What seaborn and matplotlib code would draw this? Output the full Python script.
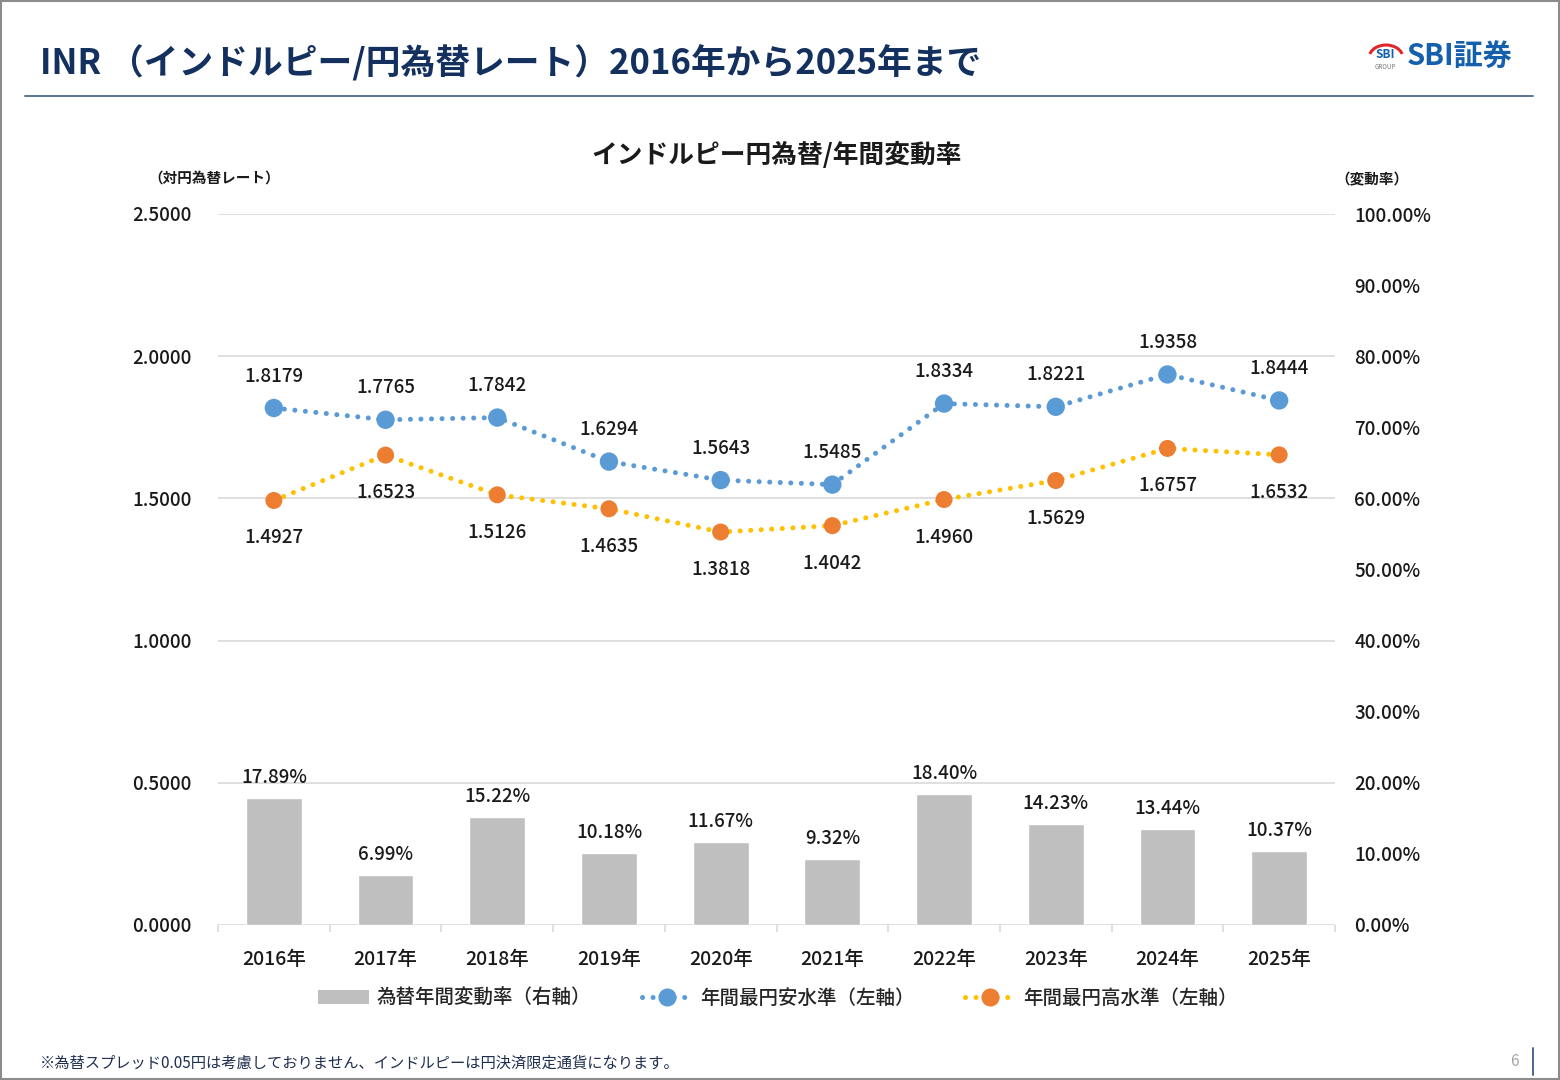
import numpy as np
import pandas as pd
import matplotlib.pyplot as plt
import seaborn as sns
from matplotlib.patches import Rectangle, Arc
from matplotlib.lines import Line2D
from matplotlib.patches import Patch

# data
years = ['2016年', '2017年', '2018年', '2019年', '2020年',
         '2021年', '2022年', '2023年', '2024年', '2025年']
yen_low = [1.8179, 1.7765, 1.7842, 1.6294, 1.5643, 1.5485, 1.8334, 1.8221, 1.9358, 1.8444]   # 年間最円安水準
yen_high = [1.4927, 1.6523, 1.5126, 1.4635, 1.3818, 1.4042, 1.4960, 1.5629, 1.6757, 1.6532]  # 年間最円高水準
change_rate = [17.89, 6.99, 15.22, 10.18, 11.67, 9.32, 18.40, 14.23, 13.44, 10.37]          # 為替年間変動率 (%)

left_ticks = [0.0, 0.5, 1.0, 1.5, 2.0, 2.5]
right_ticks = [0, 10, 20, 30, 40, 50, 60, 70, 80, 90, 100]

title = 'INR （インドルピー/円為替レート）2016年から2025年まで'
chart_title = 'インドルピー円為替/年間変動率'
note = '※為替スプレッド0.05円は考慮しておりません、インドルピーは円決済限定通貨になります。'

sns.set_theme(style='white')
plt.rcParams['font.family'] = ['Noto Sans CJK JP', 'DejaVu Sans']

NAVY = '#13305E'
BLUE = '#5B9BD5'
ORANGE = '#ED7D31'
YELLOW = '#FFC000'
GREY = '#BFBFBF'
GRID = '#D9D9D9'
TXT = '#1A1A1A'
W = 'medium'

df = pd.DataFrame({'year': years, 'rate': change_rate,
                   'low': yen_low, 'high': yen_high})
idx = np.arange(len(years))

fig = plt.figure(figsize=(15.6, 10.8), dpi=100)
ax = fig.add_axes([218 / 1560, 155 / 1080, 1117 / 1560, 711 / 1080])
ax2 = ax.twinx()

# bars on the % scale (shown on the right)
sns.barplot(data=df, x='year', y='rate', color=GREY, width=0.5,
            saturation=1, ax=ax, zorder=2)
ax.set_ylim(0, 100)
ax.set_xlim(-0.5, len(years) - 0.5)
for v in [0, 20, 40, 60, 80, 100]:
    ax.axhline(v, color=GRID, lw=1.2, zorder=0)
ax.bar_label(ax.containers[0], labels=[f'{v:.2f}%' for v in change_rate],
             padding=8, fontsize=13.5, color=TXT, fontweight=W)

ax.yaxis.tick_right()
ax.set_yticks(right_ticks)
ax.set_yticklabels([f'{v:.2f}%' for v in right_ticks], fontsize=13.5, color=TXT, fontweight=W)
ax.tick_params(axis='y', length=0, pad=14)
ax.set_xticks(idx)
ax.set_xticklabels(years, fontsize=14, color=TXT, fontweight=W)
ax.set_xticks(np.arange(-0.5, len(years)), minor=True)
ax.tick_params(axis='x', which='major', length=0, pad=18)
ax.tick_params(axis='x', which='minor', length=5, color=GRID, width=1.2, bottom=True)
ax.set_xlabel('')
ax.set_ylabel('')
for s in ax.spines.values():
    s.set_visible(False)

# lines on the rate scale (shown on the left)
ax2.set_ylim(0, 2.5)
dot = dict(lw=3.6, dash_capstyle='round', linestyle=(0, (0.01, 2.1)))
sns.lineplot(x=idx, y=yen_low, color=BLUE, ax=ax2, zorder=3, **dot)
sns.lineplot(x=idx, y=yen_high, color=YELLOW, ax=ax2, zorder=3, **dot)
sns.scatterplot(x=idx, y=yen_low, color=BLUE, s=175, edgecolor='none', ax=ax2, zorder=4)
sns.scatterplot(x=idx, y=yen_high, color=ORANGE, s=150, edgecolor='none', ax=ax2, zorder=4)
for i in idx:
    ax2.annotate(f'{yen_low[i]:.4f}', (i, yen_low[i]), xytext=(0, 23),
                 textcoords='offset points', ha='center', va='center',
                 fontsize=13.5, color=TXT, fontweight=W)
    ax2.annotate(f'{yen_high[i]:.4f}', (i, yen_high[i]), xytext=(0, -27),
                 textcoords='offset points', ha='center', va='center',
                 fontsize=13.5, color=TXT, fontweight=W)
ax2.yaxis.tick_left()
ax2.set_yticks(left_ticks)
ax2.set_yticklabels([f'{v:.4f}' for v in left_ticks], fontsize=13.5, color=TXT, fontweight=W)
ax2.tick_params(axis='y', length=0, pad=19)
ax2.set_xlim(-0.5, len(years) - 0.5)
ax2.set_ylabel('')
for s in ax2.spines.values():
    s.set_visible(False)

# chart titles / axis captions
fig.text(777 / 1560, 1 - 155 / 1080, chart_title, ha='center', va='center',
         fontsize=18.5, fontweight='bold', color=TXT)
fig.text(148 / 1560, 1 - 179 / 1080, '（対円為替レート）', ha='left', va='center',
         fontsize=10.5, fontweight='bold', color=TXT)
fig.text(1335 / 1560, 1 - 179 / 1080, '（変動率）', ha='left', va='center',
         fontsize=10.5, fontweight='bold', color=TXT)

handles = [Patch(facecolor=GREY, edgecolor='none'),
           Line2D([], [], color=BLUE, marker='o', markersize=12, lw=3.6,
                  linestyle=(0, (0.01, 2.1)), dash_capstyle='round'),
           Line2D([], [], color=YELLOW, marker='o', markersize=12, lw=3.6,
                  markerfacecolor=ORANGE, markeredgecolor=ORANGE,
                  linestyle=(0, (0.01, 2.1)), dash_capstyle='round')]
fig.legend(handles, ['為替年間変動率（右軸）', '年間最円安水準（左軸）', '年間最円高水準（左軸）'],
           loc='center', bbox_to_anchor=(778 / 1560, 1 - 998 / 1080), ncol=3,
           frameon=False, prop={'size': 14, 'weight': W}, handlelength=2.6,
           handleheight=0.7, columnspacing=2.6, handletextpad=0.4)

# page header
fig.text(40 / 1560, 1 - 63 / 1080, title, ha='left', va='center',
         fontsize=25, fontweight='bold', color=NAVY)
fig.add_artist(Line2D([25 / 1560, 1533 / 1560], [1 - 96 / 1080] * 2,
                      color='#5A7398', lw=1.4))
fig.text(1407 / 1560, 1 - 57 / 1080, 'SBI証券', ha='left', va='center',
         fontsize=21, fontweight='bold', color='#1560AC')
fig.text(1385 / 1560, 1 - 54 / 1080, 'SBI', ha='center', va='center',
         fontsize=8.5, fontweight='bold', style='italic', color='#1560AC')
fig.text(1385 / 1560, 1 - 67 / 1080, 'GROUP', ha='center', va='center',
         fontsize=4.5, color='#777777')
fig.add_artist(Arc((1386 / 1560, 1 - 58 / 1080), 34 / 1560, 26 / 1080,
                   theta1=20, theta2=160, color='#E0262B', lw=2.2,
                   transform=fig.transFigure))

# footer
fig.text(40 / 1560, 1 - 1063 / 1080, note, ha='left', va='center',
         fontsize=11, color='#1F2F4F')
fig.text(1514 / 1560, 1 - 1061 / 1080, '6', ha='center', va='center',
         fontsize=11, color='#A6A6A6')
fig.add_artist(Line2D([1533 / 1560] * 2, [1 - 1048 / 1080, 1 - 1075 / 1080],
                      color='#3D5A8A', lw=1.3))
fig.add_artist(Rectangle((0.0005, 0.0005), 0.999, 0.999, transform=fig.transFigure,
                         fill=False, edgecolor='#8C8C8C', lw=1.5))

fig.savefig('out.png', dpi=100)
